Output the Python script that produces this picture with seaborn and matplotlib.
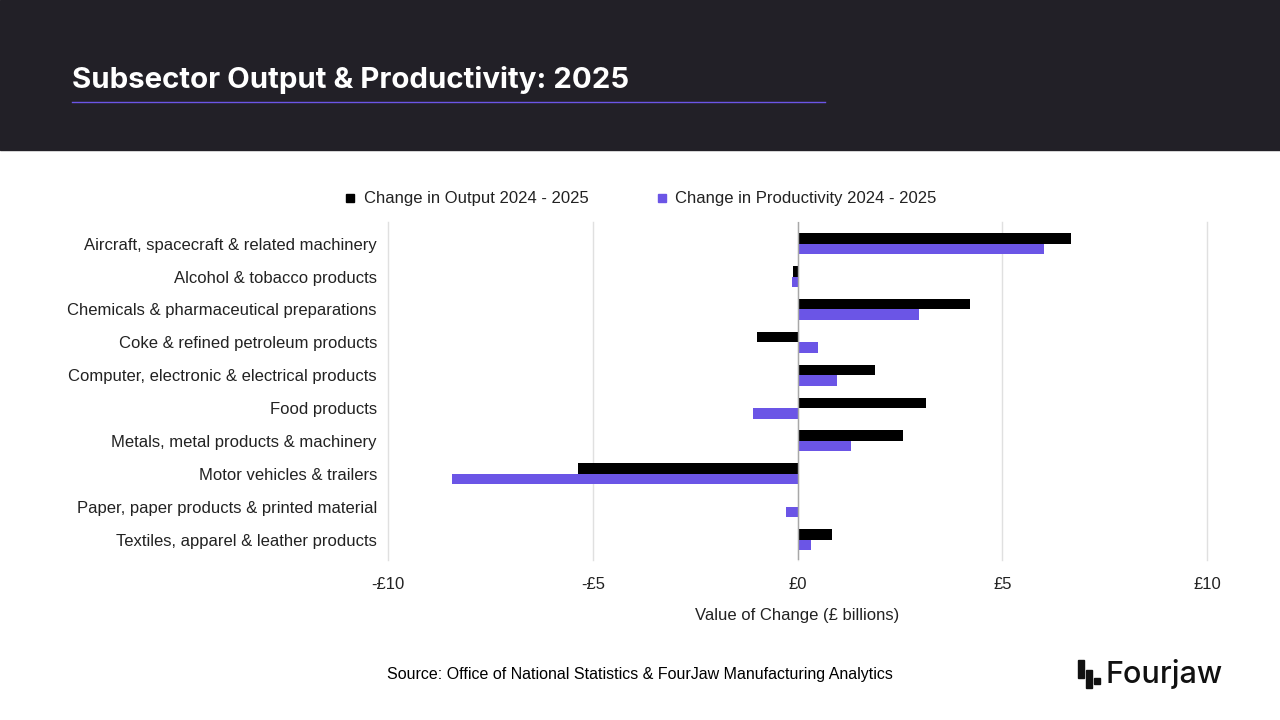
import seaborn as sns
import pandas as pd
import matplotlib.pyplot as plt
from matplotlib.patches import Rectangle
from matplotlib.lines import Line2D

# Data (£ billions)
categories = [
    "Aircraft, spacecraft & related machinery",
    "Alcohol & tobacco products",
    "Chemicals & pharmaceutical preparations",
    "Coke & refined petroleum products",
    "Computer, electronic & electrical products",
    "Food products",
    "Metals, metal products & machinery",
    "Motor vehicles & trailers",
    "Paper, paper products & printed material",
    "Textiles, apparel & leather products",
]
output_change = [6.67, -0.10, 4.21, -0.99, 1.90, 3.14, 2.58, -5.37, 0.02, 0.84]
productivity_change = [6.01, -0.13, 2.97, 0.49, 0.97, -1.09, 1.30, -8.44, -0.27, 0.34]
series_names = ["Change in Output 2024 - 2025", "Change in Productivity 2024 - 2025"]
xtick_values = [-10, -5, 0, 5, 10]
xtick_labels = ["-£10", "-£5", "£0", "£5", "£10"]

df = pd.DataFrame({
    "category": categories * 2,
    "value": output_change + productivity_change,
    "series": [series_names[0]] * len(categories) + [series_names[1]] * len(categories),
})

BLACK = "#000000"
PURPLE = "#6b55e6"
W, H = 1280, 720

plt.rcParams['font.family'] = ['Liberation Sans', 'DejaVu Sans']

fig = plt.figure(figsize=(12.8, 7.2), dpi=100)

# dark header band with title
fig.patches.append(Rectangle((0, 1 - 150 / H), 1, 150 / H, transform=fig.transFigure,
                             color="#222027", zorder=0))
fig.text(72 / W, 1 - 80 / H, "Subsector Output & Productivity: 2025", color="white",
         fontsize=21.2, fontweight="bold", family=["Inter", "DejaVu Sans"], va="center", ha="left")
fig.lines.append(Line2D([72 / W, 825 / W], [1 - 102 / H] * 2, transform=fig.transFigure,
                        color=PURPLE, lw=1))

ax = fig.add_axes([388 / W, 1 - 560 / H, (1207 - 388) / W, (560 - 222) / H])
sns.barplot(data=df, y="category", x="value", hue="series", orient="h",
            palette=[BLACK, PURPLE], saturation=1, width=0.64, ax=ax, legend=False, zorder=3)

ax.set_xlim(-10, 10)
ax.set_ylim(9.62, -0.66)
ax.set_xticks(xtick_values)
ax.set_xticklabels(xtick_labels)
ax.grid(axis="x", color="#e0e0e0", lw=1, zorder=0)
for gl in ax.get_xgridlines():
    gl.set_clip_on(False)
ax.axvline(0, color="#a8a8a8", lw=1, zorder=4)
for s in ax.spines.values():
    s.set_visible(False)
ax.tick_params(axis="both", length=0, labelsize=12, colors="#222222")
ax.tick_params(axis="x", pad=12, labelsize=12)
ax.tick_params(axis="y", pad=8)
ax.set_ylabel("")
ax.set_xlabel("Value of Change (£ billions)", fontsize=12, color="#222222", labelpad=12)

handles = [Line2D([], [], marker="s", ls="", color=c, markersize=6) for c in (BLACK, PURPLE)]
fig.legend(handles, series_names, loc="center", bbox_to_anchor=(640 / W, 1 - 199 / H),
           ncol=2, frameon=False, fontsize=12, handlelength=0.8, handletextpad=0.4,
           columnspacing=4.0, labelcolor="#222222")

fig.text(640 / W, 1 - 674 / H, "Source: Office of National Statistics & FourJaw Manufacturing Analytics",
         fontsize=11.5, ha="center", va="center", color="#000000")

# logo
for (x0, y0, w, h) in [(1078, 660, 6, 18), (1086, 670, 6, 18), (1094, 678, 6, 6)]:
    fig.patches.append(Rectangle((x0 / W, 1 - (y0 + h) / H), w / W, h / H,
                                 transform=fig.transFigure, color="#111111"))
fig.text(1105 / W, 1 - 674 / H, "Fourjaw", fontsize=22, fontweight="medium",
         family=["Inter", "DejaVu Sans"], ha="left", va="center", color="#111111")

fig.savefig("out.png", dpi=100)
